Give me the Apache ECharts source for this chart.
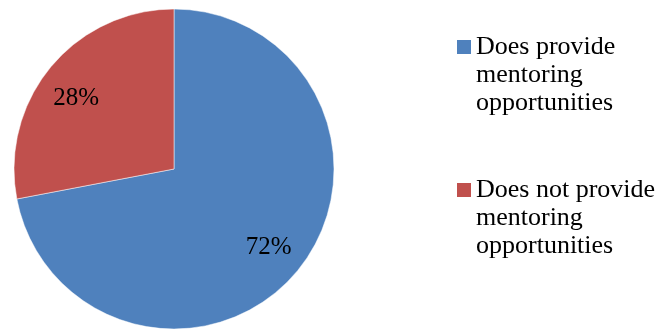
<!DOCTYPE html>
<html>
<head>
<meta charset="utf-8">
<script src="https://cdn.jsdelivr.net/npm/echarts@6/dist/echarts.min.js"></script>
<style>
  html, body { margin: 0; padding: 0; background: #ffffff; }
  #chart { width: 664px; height: 329px; }
</style>
</head>
<body>
<div id="chart"></div>
<script>
// Share of organisations by whether they offer mentoring
const categories = [
  'Does provide\nmentoring\nopportunities',
  'Does not provide\nmentoring\nopportunities'
];
const shares = [72, 28];
const sliceColors = ['#4f81bd', '#c0504d'];
// small nudge for each percentage label
const labelOffsets = [[0, 0], [-3, 8]];

const FONT = '"Liberation Serif", "Times New Roman", serif';
const LINE = 28;

const chart = echarts.init(document.getElementById('chart'), null, { renderer: 'canvas' });

const pieData = categories.map((name, i) => ({ name: name, value: shares[i] }));
const labelData = categories.map((name, i) => ({
  name: name,
  value: shares[i],
  label: { offset: labelOffsets[i] }
}));

chart.setOption({
  animation: false,
  color: sliceColors,
  legend: {
    orient: 'vertical',
    left: 457,
    top: 47 - LINE * 2.5,
    padding: 0,
    itemWidth: 14,
    itemHeight: 14,
    itemGap: 3,
    icon: 'rect',
    selectedMode: false,
    itemStyle: { borderWidth: 0 },
    // two blank lines above each name keep the swatch beside the first line
    formatter: name => '\n\n' + name,
    textStyle: {
      fontFamily: FONT,
      fontSize: 26,
      lineHeight: LINE,
      color: '#000000'
    },
    data: categories
  },
  series: [{
    type: 'pie',
    center: [174, 169],
    radius: 160,
    startAngle: 90,
    clockwise: true,
    label: { show: false },
    labelLine: { show: false },
    itemStyle: { borderColor: '#ffffff', borderWidth: 0.5 },
    emphasis: { disabled: true },
    data: pieData
  }, {
    // transparent ring that only carries the percentage labels
    type: 'pie',
    center: [174, 169],
    radius: [80, 160],
    startAngle: 90,
    clockwise: true,
    silent: true,
    itemStyle: { color: 'rgba(0,0,0,0)', borderWidth: 0 },
    label: {
      show: true,
      position: 'inside',
      formatter: '{c}%',
      fontFamily: FONT,
      fontSize: 25,
      color: '#000000'
    },
    labelLine: { show: false },
    emphasis: { disabled: true },
    data: labelData
  }]
});
</script>
</body>
</html>
